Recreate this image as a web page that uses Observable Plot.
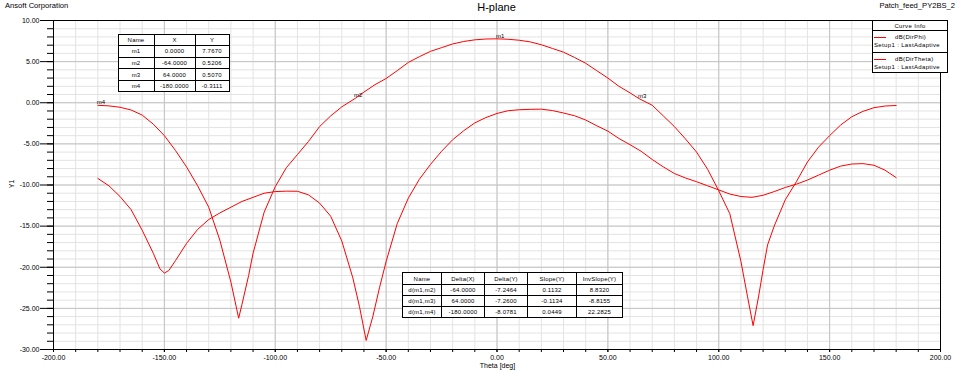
<!DOCTYPE html>
<html><head><meta charset="utf-8">
<script src="https://cdn.jsdelivr.net/npm/d3@7"></script>
<script src="https://cdn.jsdelivr.net/npm/@observablehq/plot@0.6"></script>
<style>
body{margin:0;background:#fff;font-family:"Liberation Sans",Arial,sans-serif;}
#wrap{position:relative;width:960px;height:371px;overflow:hidden;background:#fff;}
#wrap svg{position:absolute;left:0;top:0;}
.t{position:absolute;white-space:nowrap;color:#000;line-height:1;}
table.tb{position:absolute;border-collapse:collapse;background:#fff;font-size:6px;letter-spacing:0.2px;table-layout:fixed;}
table.tb td{border:1px solid #000;text-align:center;padding:0;line-height:1;overflow:hidden;white-space:nowrap;}
#legend{position:absolute;left:872px;top:20px;width:74px;height:51px;border:1px solid #000;background:#fff;font-size:6px;letter-spacing:0.35px;}
#legend .sep{position:absolute;left:0;right:0;height:0;border-top:1px solid #000;}
#legend .sw{position:absolute;height:0;border-top:1px solid #ff0000;width:12px;left:1px;}
</style></head><body><div id="wrap"></div>
<script>
// Curve with markers (dB(DirPhi))
const theta1 = [-180,-175,-170,-165,-160,-155,-150,-145,-140,-135,-130,-125,-120,-116.5,-115,-112,-110,-105,-100,-95,-90,-85,-80,-75,-70,-64,-60,-55,-50,-45,-40,-35,-30,-25,-20,-15,-10,-5,0,5,10,15,20,25,30,35,40,45,50,55,60,64,70,75,80,85,90,95,100,105,110,113,115.5,118,120,122,125,130,135,140,145,150,155,160,165,170,175,180];
const dbPhi = [-0.31,-0.38,-0.55,-0.88,-1.5,-2.6,-4.0,-5.8,-7.8,-10.1,-12.7,-16.7,-21.8,-26.2,-24.5,-21.0,-18.3,-13.3,-10.2,-7.9,-6.3,-4.7,-2.9,-1.6,-0.5,0.52,1.3,2.2,2.95,3.9,4.9,5.6,6.25,6.7,7.15,7.45,7.65,7.75,7.77,7.72,7.6,7.4,7.05,6.6,6.15,5.5,4.8,3.9,3.0,2.0,1.2,0.51,-0.3,-1.6,-2.9,-4.4,-6.0,-8.1,-10.7,-13.5,-19.3,-23.6,-27.1,-23.5,-20.3,-17.3,-15.0,-11.8,-9.6,-7.2,-5.4,-4.0,-2.7,-1.7,-1.05,-0.6,-0.4,-0.33];
// Second curve (dB(DirTheta))
const theta2 = [-180,-175,-170,-165,-160,-155,-152,-150,-148,-145,-140,-135,-130,-125,-120,-115,-110,-105,-100,-95,-90,-85,-80,-75,-70,-65,-62,-59,-56,-53,-50,-45,-40,-35,-30,-25,-20,-15,-10,-5,0,5,10,15,20,25,30,35,40,45,50,55,60,65,70,75,80,85,90,95,100,105,110,115,120,125,130,135,140,145,150,155,160,165,170,175,180];
const dbTheta = [-9.2,-10.1,-11.4,-13.0,-15.5,-18.3,-20.2,-20.7,-20.4,-19.2,-17.1,-15.4,-14.2,-13.4,-12.7,-12.0,-11.5,-11.0,-10.8,-10.75,-10.76,-11.2,-12.2,-13.8,-16.8,-21.3,-24.8,-28.9,-26.0,-22.5,-19.3,-14.7,-11.6,-9.3,-7.5,-5.9,-4.5,-3.4,-2.45,-1.8,-1.3,-0.97,-0.85,-0.8,-0.78,-0.95,-1.25,-1.58,-2.1,-2.8,-3.45,-4.35,-5.1,-5.9,-6.9,-7.8,-8.6,-9.15,-9.6,-10.1,-10.6,-11.1,-11.4,-11.5,-11.25,-10.8,-10.3,-9.9,-9.4,-8.8,-8.2,-7.7,-7.45,-7.4,-7.6,-8.2,-9.1];

// Markers
const markerNames = ["m1","m2","m3","m4"];
const markerX = [0, -64, 64, -180];
const markerY = [7.7670, 0.5206, 0.5070, -0.3111];

// Delta table (as read)
const deltaNames = ["d(m1,m2)","d(m1,m3)","d(m1,m4)"];
const deltaX = ["-64.0000","64.0000","-180.0000"];
const deltaY = ["-7.2464","-7.2600","-8.0781"];
const slopeY = ["0.1132","-0.1134","0.0449"];
const invSlopeY = ["8.8320","-8.8155","22.2825"];

// Axes ticks
const xMajor = [-200,-150,-100,-50,0,50,100,150,200];
const yMajor = [-30,-25,-20,-15,-10,-5,0,5,10];
const xMinor = d3.range(-200, 201, 10);
const yMinor = d3.range(-30, 11, 1);

const seriesNames = ["dB(DirPhi)","dB(DirTheta)"];
const setupName = "Setup1 : LastAdaptive";

const curve1 = theta1.map((t,i)=>({theta:t, v:dbPhi[i]}));
const curve2 = theta2.map((t,i)=>({theta:t, v:dbTheta[i]}));
const markers = markerNames.map((n,i)=>({name:n, x:markerX[i], y:markerY[i]}));

const chart = Plot.plot({
  width: 960, height: 371,
  marginLeft: 53, marginRight: 20, marginTop: 20, marginBottom: 22,
  style: {fontFamily: "Liberation Sans, Arial, sans-serif", fontSize: "7px", background: "transparent", color: "#000"},
  x: {domain: [-200, 200]},
  y: {domain: [-30, 10]},
  marks: [
    Plot.ruleX(xMinor, {stroke: "#e3e3e3", strokeWidth: 1}),
    Plot.ruleY(yMinor, {stroke: "#e3e3e3", strokeWidth: 1}),
    Plot.ruleX(xMajor, {stroke: "#c3c3c3", strokeWidth: 1}),
    Plot.ruleY(yMajor, {stroke: "#c3c3c3", strokeWidth: 1}),
    Plot.line(curve2, {x: "theta", y: "v", stroke: "#ff0000", strokeWidth: 1}),
    Plot.line(curve1, {x: "theta", y: "v", stroke: "#ff0000", strokeWidth: 1}),
    Plot.text(markers, {x: "x", y: "y", text: "name", textAnchor: "start", lineAnchor: "bottom", fontSize: 6, dx: -1, dy: -1, fill: "#000"}),
    Plot.frame({stroke: "#000", strokeWidth: 1}),
    Plot.axisX(xMinor, {tickSize: 3, tickFormat: () => "", label: null}),
    Plot.axisX(xMajor, {tickSize: 3, tickPadding: 3, tickFormat: d => d.toFixed(2), label: null, fontSize: 7}),
    Plot.axisY(yMinor, {tickSize: 6, tickFormat: () => "", label: null}),
    Plot.axisY(yMajor, {tickSize: 13, tickPadding: 1, tickFormat: d => d.toFixed(2), label: null, fontSize: 7})
  ]
});
const wrap = document.getElementById("wrap");
wrap.appendChild(chart);

function addText(txt, left, top, size, extra) {
  const d = document.createElement("div");
  d.className = "t";
  d.textContent = txt;
  d.style.left = left + "px";
  d.style.top = top + "px";
  d.style.fontSize = size + "px";
  if (extra) Object.assign(d.style, extra);
  wrap.appendChild(d);
  return d;
}
addText("Ansoft Corporation", 5, 2, 7.6);
addText("H-plane", 496.5, 1.5, 11, {transform: "translateX(-50%)"});
addText("Patch_feed_PY2BS_2", 955, 2, 7.6, {transform: "translateX(-100%)"});
addText("Y1", 10.5, 183.5, 7, {transform: "translate(-50%,-50%) rotate(-90deg)"});
addText("Theta [deg]", 497.5, 362, 7, {transform: "translateX(-50%)"});

// Tables
function makeTable(rows, left, top, widths, heights) {
  const t = document.createElement("table");
  t.className = "tb";
  t.style.left = left + "px"; t.style.top = top + "px";
  t.style.width = d3.sum(widths) + "px";
  rows.forEach((r, i) => {
    const tr = document.createElement("tr");
    tr.style.height = heights[i] + "px";
    r.forEach((c, j) => {
      const td = document.createElement("td");
      td.textContent = c;
      if (i === 0) td.style.width = widths[j] + "px";
      tr.appendChild(td);
    });
    t.appendChild(tr);
  });
  wrap.appendChild(t);
}
makeTable(
  [["Name","X","Y"]].concat(markerNames.map((n,i)=>[n, markerX[i].toFixed(4), markerY[i].toFixed(4)])),
  117.5, 33.5, [35,40,33], [11.6,11.6,11.6,11.6,11.6]
);
makeTable(
  [["Name","Delta(X)","Delta(Y)","Slope(Y)","InvSlope(Y)"]].concat(deltaNames.map((n,i)=>[n, deltaX[i], deltaY[i], slopeY[i], invSlopeY[i]])),
  402, 272, [38,42,42,48,45], [12,11,11,11]
);

// Legend
const lg = document.createElement("div");
lg.id = "legend";
wrap.appendChild(lg);
function lt(txt, left, top, center) {
  const d = document.createElement("div");
  d.className = "t"; d.textContent = txt;
  d.style.top = top + "px";
  if (center) { d.style.left = "0"; d.style.width = "100%"; d.style.textAlign = "center"; }
  else d.style.left = left + "px";
  lg.appendChild(d);
}
lt("Curve Info", 0, 2, true);
[8.5, 30.5].forEach((y, i) => {
  const s = document.createElement("div"); s.className = "sep"; s.style.top = y + "px"; lg.appendChild(s);
  const sw = document.createElement("div"); sw.className = "sw"; sw.style.top = (y + 7) + "px"; lg.appendChild(sw);
  lt(seriesNames[i], 22, y + 4);
  lt(setupName, 1, y + 12.5);
});
</script></body></html>
